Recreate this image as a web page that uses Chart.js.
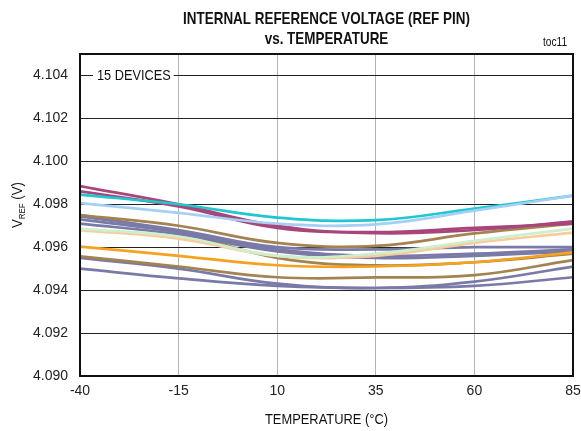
<!DOCTYPE html>
<html>
<head>
<meta charset="utf-8">
<script src="https://cdn.jsdelivr.net/npm/chart.js@4"></script>
<style>
  html, body { margin: 0; padding: 0; background: #fff; }
  #wrap { width: 581px; height: 431px; position: relative; }
</style>
</head>
<body>
<div id="wrap"><canvas id="chart" width="581" height="431"></canvas></div>
<script>
// temperatures (°C) where values were read
const temps = [-40, -15, 10, 35, 60, 85];
const xTicks = [-40, -15, 10, 35, 60, 85];
const yTicks = [4.090, 4.092, 4.094, 4.096, 4.098, 4.100, 4.102, 4.104];

// VREF per device (V)
const magentaA = [4.09885, 4.0980, 4.0970, 4.09665, 4.0968, 4.0972];
const magentaB = [4.0986, 4.0979, 4.0969, 4.0967, 4.0969, 4.0971];
const cyan = [4.09845, 4.0980, 4.09738, 4.09726, 4.0978, 4.0984];
const lightBlue = [4.09805, 4.0976, 4.0971, 4.09706, 4.0977, 4.0984];
const brownA = [4.0975, 4.0970, 4.0962, 4.09606, 4.09664, 4.0971];
const brownB = [4.0975, 4.0967, 4.0955, 4.09515, 4.0953, 4.0957];
const brownC = [4.09557, 4.0951, 4.0946, 4.09459, 4.0947, 4.0954];
const slateA = [4.09743, 4.0968, 4.0960, 4.0959, 4.0960, 4.0960];
const slateB = [4.0971, 4.0966, 4.0958, 4.0955, 4.0956, 4.0958];
const slateC = [4.0950, 4.09455, 4.0942, 4.0941, 4.0942, 4.0946];
const slateD = [4.0955, 4.0950, 4.0943, 4.0941, 4.0944, 4.0951];
const slateE = [4.0973, 4.0967, 4.0959, 4.0956, 4.0957, 4.0959];
const green = [4.09685, 4.0965, 4.0956, 4.0957, 4.0963, 4.09687];
const peach = [4.0968, 4.0964, 4.0956, 4.0956, 4.0962, 4.09668];
const orange = [4.09603, 4.0956, 4.09516, 4.0951, 4.0953, 4.09576];

const MAGENTA = '#A8457A', CYAN = '#1FC8CF', LBLUE = '#A6CFF6', BROWN = '#A3834F',
      SLATE = '#7A7AA8', GREEN = '#CDEFCB', PEACH = '#F9CB9C', ORANGE = '#F7A21F';

// first entry is drawn on top
const series = [
  [lightBlue, LBLUE], [cyan, CYAN], [magentaA, MAGENTA], [magentaB, MAGENTA],
  [orange, ORANGE], [green, GREEN], [peach, PEACH],
  [brownA, BROWN], [slateA, SLATE], [slateE, SLATE], [slateB, SLATE],
  [brownB, BROWN], [brownC, BROWN], [slateD, SLATE], [slateC, SLATE]
];

const FONT = "'Liberation Sans', Arial, sans-serif";

// narrow text: squeeze horizontally, like the Arial Narrow of the original
function narrowText(ctx, text, x, y, sx, align) {
  const w = ctx.measureText(text).width * sx;
  let left = x;
  if (align === 'center') left = x - w / 2;
  else if (align === 'right') left = x - w;
  ctx.save();
  ctx.translate(left, y);
  ctx.scale(sx, 1);
  ctx.textAlign = 'left';
  ctx.fillText(text, 0, 0);
  ctx.restore();
  return w;
}

const frame = {
  id: 'frame',
  afterDraw(chart) {
    const { ctx, chartArea: a } = chart;
    const y = chart.scales.y;
    ctx.save();
    ctx.fillStyle = '#111';
    // 15 DEVICES label over the top gridline
    ctx.font = '14.5px ' + FONT;
    const label = '15 DEVICES';
    const w = ctx.measureText(label).width * 0.88;
    const ly = y.getPixelForValue(4.104);
    ctx.fillStyle = '#fff';
    ctx.fillRect(a.left + 13, ly - 8, w + 7, 16);
    ctx.fillStyle = '#111';
    ctx.textBaseline = 'middle';
    narrowText(ctx, label, a.left + 17, ly + 1, 0.88, 'left');
    // plot border
    ctx.strokeStyle = '#111';
    ctx.lineWidth = 2;
    ctx.strokeRect(a.left, a.top, a.right - a.left, a.bottom - a.top);
    // titles
    ctx.textBaseline = 'alphabetic';
    ctx.font = 'bold 17px ' + FONT;
    const cx = (a.left + a.right) / 2;
    narrowText(ctx, 'INTERNAL REFERENCE VOLTAGE (REF PIN)', cx, 24, 0.79, 'center');
    narrowText(ctx, 'vs. TEMPERATURE', cx, 44, 0.79, 'center');
    ctx.font = '12px ' + FONT;
    narrowText(ctx, 'toc11', 555, 46, 0.85, 'center');
    ctx.font = '15px ' + FONT;
    narrowText(ctx, 'TEMPERATURE (\u00B0C)', cx, 424, 0.86, 'center');
    // y title with subscript
    ctx.translate(22, 205);
    ctx.rotate(-Math.PI / 2);
    ctx.font = '15px ' + FONT;
    const wV = ctx.measureText('V').width * 0.88;
    ctx.font = '9px ' + FONT;
    const wR = ctx.measureText('REF').width * 0.88;
    ctx.font = '15px ' + FONT;
    const wP = ctx.measureText(' (V)').width * 0.88;
    const x0 = -(wV + wR + wP) / 2;
    narrowText(ctx, 'V', x0, 0, 0.88, 'left');
    ctx.font = '9px ' + FONT;
    narrowText(ctx, 'REF', x0 + wV, 3, 0.88, 'left');
    ctx.font = '15px ' + FONT;
    narrowText(ctx, ' (V)', x0 + wV + wR, 0, 0.88, 'left');
    ctx.restore();
  }
};

new Chart(document.getElementById('chart').getContext('2d'), {
  type: 'line',
  data: {
    datasets: series.map(([vals, color]) => ({
      data: temps.map((t, i) => ({ x: t, y: vals[i] })),
      borderColor: color,
      borderWidth: 2.7,
      pointRadius: 0,
      tension: 0.4,
      fill: false
    }))
  },
  plugins: [frame],
  options: {
    responsive: false,
    animation: false,
    devicePixelRatio: 1,
    layout: { padding: { left: 0, right: 0, top: 54, bottom: 0 } },
    plugins: { legend: { display: false }, tooltip: { enabled: false } },
    scales: {
      x: {
        type: 'linear', min: -40, max: 85,
        afterBuildTicks: s => { s.ticks = xTicks.map(v => ({ value: v })); },
        afterFit: s => { s.height = 55; s.paddingRight = 8; },
        grid: { color: '#b4b4b4', lineWidth: 1, drawTicks: false },
        border: { display: false },
        ticks: { color: '#222', font: { family: FONT, size: 14 }, padding: 7, maxRotation: 0 }
      },
      y: {
        type: 'linear', min: 4.090, max: 4.105,
        afterBuildTicks: s => { s.ticks = yTicks.map(v => ({ value: v })); },
        afterFit: s => { s.width = 80; },
        grid: { color: '#222', lineWidth: 1, drawTicks: false },
        border: { display: false },
        ticks: {
          color: '#222', font: { family: FONT, size: 14 }, padding: 12,
          callback: v => v.toFixed(3)
        }
      }
    }
  }
});
</script>
</body>
</html>
